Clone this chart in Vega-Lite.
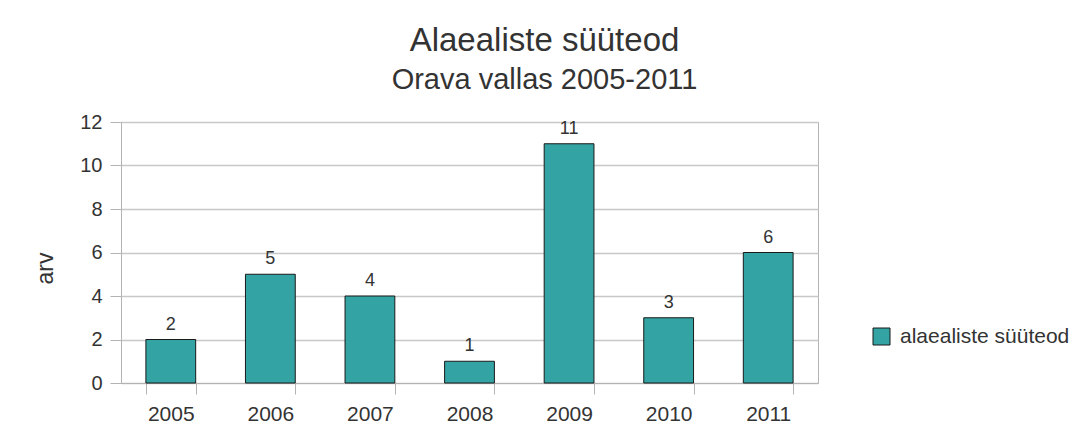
{
  "$schema": "https://vega.github.io/schema/vega-lite/v6.json",
  "autosize": "none",
  "width": 697,
  "height": 261,
  "padding": {"left": 121, "top": 122, "right": 255, "bottom": 53},
  "background": "white",
  "config": {
    "font": "Liberation Sans",
    "view": {"stroke": "#b3b3b3", "strokeWidth": 1},
    "axis": {"labelColor": "#333333", "titleColor": "#333333", "labelFont": "Liberation Sans", "titleFont": "Liberation Sans"}
  },
  "title": {
    "text": "Alaealiste süüteod",
    "subtitle": "Orava vallas 2005-2011",
    "fontSize": 33,
    "fontWeight": "normal",
    "subtitleFontSize": 29,
    "color": "#333333",
    "subtitleColor": "#333333",
    "font": "Liberation Sans",
    "subtitleFont": "Liberation Sans",
    "anchor": "middle",
    "dx": 75,
    "offset": 17,
    "subtitlePadding": 8
  },
  "data": {
    "values": [
      {"year": "2005", "count": 2, "series": "alaealiste süüteod"},
      {"year": "2006", "count": 5, "series": "alaealiste süüteod"},
      {"year": "2007", "count": 4, "series": "alaealiste süüteod"},
      {"year": "2008", "count": 1, "series": "alaealiste süüteod"},
      {"year": "2009", "count": 11, "series": "alaealiste süüteod"},
      {"year": "2010", "count": 3, "series": "alaealiste süüteod"},
      {"year": "2011", "count": 6, "series": "alaealiste süüteod"}
    ]
  },
  "encoding": {
    "x": {
      "field": "year",
      "type": "ordinal",
      "scale": {"paddingInner": 0.5, "paddingOuter": 0.25},
      "axis": {
        "title": null,
        "labelAngle": 0,
        "labelFontSize": 21,
        "labelPadding": 9,
        "tickSize": 11,
        "tickBand": "extent",
        "tickColor": "#b3b3b3",
        "domainColor": "#b3b3b3",
        "grid": false
      }
    },
    "y": {
      "field": "count",
      "type": "quantitative",
      "scale": {"domain": [0, 12], "nice": false},
      "axis": {
        "title": "arv",
        "titleFontSize": 23,
        "titleFontWeight": "normal",
        "titlePadding": 22,
        "titleY": 146,
        "values": [0, 2, 4, 6, 8, 10, 12],
        "labelFontSize": 20,
        "labelPadding": 8,
        "tickSize": 11,
        "tickColor": "#b3b3b3",
        "domainColor": "#b3b3b3",
        "gridColor": "#c8c8c8",
        "gridWidth": 1.5
      }
    }
  },
  "layer": [
    {
      "mark": {"type": "bar", "stroke": "#1a1a1a", "strokeWidth": 1},
      "encoding": {
        "color": {
          "field": "series",
          "type": "nominal",
          "scale": {"range": ["#33a3a3"]},
          "legend": {
            "title": null,
            "orient": "none",
            "legendX": 750,
            "legendY": 204,
            "symbolType": "square",
            "symbolSize": 289,
            "symbolStrokeColor": "#1a1a1a",
            "symbolStrokeWidth": 1,
            "symbolFillColor": "#33a3a3",
            "labelFontSize": 21,
            "labelColor": "#333333",
            "labelFont": "Liberation Sans",
            "labelOffset": 8,
            "labelLimit": 300
          }
        }
      }
    },
    {
      "mark": {"type": "text", "baseline": "alphabetic", "dy": -10, "fontSize": 18, "color": "#333333", "font": "Liberation Sans"},
      "encoding": {"text": {"field": "count", "type": "quantitative"}}
    }
  ]
}
